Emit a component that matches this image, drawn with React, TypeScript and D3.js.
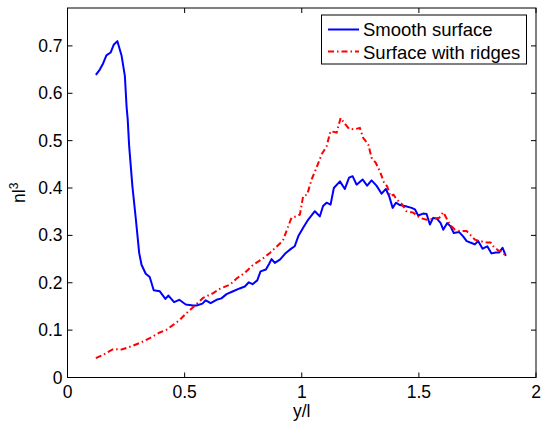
import React from 'react';
import * as d3 from 'd3';

// Smooth surface (blue, solid)
const smoothX = [0.121, 0.138, 0.152, 0.166, 0.184, 0.198, 0.213, 0.231, 0.245, 0.252, 0.257, 0.263, 0.277, 0.292, 0.306, 0.316, 0.334, 0.351, 0.368, 0.394, 0.418, 0.431, 0.455, 0.477, 0.505, 0.536, 0.551, 0.576, 0.59, 0.611, 0.636, 0.657, 0.679, 0.707, 0.735, 0.757, 0.774, 0.79, 0.81, 0.824, 0.847, 0.861, 0.871, 0.885, 0.907, 0.932, 0.955, 0.97, 0.985, 1.006, 1.027, 1.056, 1.077, 1.091, 1.106, 1.123, 1.137, 1.163, 1.184, 1.202, 1.217, 1.234, 1.26, 1.279, 1.298, 1.319, 1.341, 1.359, 1.373, 1.388, 1.402, 1.419, 1.44, 1.469, 1.483, 1.497, 1.518, 1.533, 1.547, 1.561, 1.578, 1.593, 1.604, 1.621, 1.635, 1.649, 1.672, 1.689, 1.704, 1.725, 1.739, 1.753, 1.772, 1.792, 1.81, 1.829, 1.843, 1.857, 1.871];
const smoothY = [0.639, 0.65, 0.663, 0.68, 0.686, 0.703, 0.71, 0.679, 0.636, 0.573, 0.545, 0.49, 0.404, 0.333, 0.263, 0.238, 0.219, 0.212, 0.184, 0.182, 0.166, 0.173, 0.159, 0.164, 0.154, 0.152, 0.152, 0.156, 0.163, 0.157, 0.164, 0.167, 0.176, 0.182, 0.188, 0.192, 0.201, 0.197, 0.205, 0.224, 0.228, 0.24, 0.25, 0.242, 0.249, 0.263, 0.272, 0.277, 0.298, 0.316, 0.333, 0.351, 0.34, 0.362, 0.369, 0.365, 0.4, 0.414, 0.398, 0.422, 0.425, 0.407, 0.418, 0.405, 0.416, 0.405, 0.388, 0.398, 0.383, 0.358, 0.369, 0.364, 0.362, 0.358, 0.355, 0.342, 0.346, 0.345, 0.323, 0.337, 0.335, 0.326, 0.312, 0.326, 0.319, 0.305, 0.307, 0.298, 0.288, 0.284, 0.281, 0.288, 0.272, 0.277, 0.262, 0.264, 0.264, 0.274, 0.257];

// Surface with ridges (red, dash-dot)
const ridgeX = [0.121, 0.152, 0.195, 0.231, 0.273, 0.309, 0.351, 0.394, 0.423, 0.451, 0.48, 0.508, 0.544, 0.579, 0.622, 0.65, 0.693, 0.722, 0.757, 0.793, 0.828, 0.864, 0.907, 0.921, 0.956, 0.975, 0.992, 1.006, 1.023, 1.042, 1.063, 1.085, 1.106, 1.123, 1.149, 1.166, 1.18, 1.202, 1.226, 1.248, 1.262, 1.284, 1.298, 1.316, 1.333, 1.351, 1.365, 1.378, 1.392, 1.405, 1.426, 1.447, 1.476, 1.504, 1.533, 1.561, 1.587, 1.604, 1.619, 1.632, 1.654, 1.675, 1.704, 1.718, 1.739, 1.761, 1.789, 1.806, 1.818, 1.839, 1.853, 1.867];
const ridgeY = [0.041, 0.048, 0.06, 0.059, 0.066, 0.073, 0.083, 0.095, 0.101, 0.111, 0.122, 0.136, 0.152, 0.168, 0.178, 0.187, 0.196, 0.209, 0.221, 0.238, 0.249, 0.263, 0.283, 0.291, 0.337, 0.34, 0.344, 0.383, 0.386, 0.418, 0.443, 0.471, 0.488, 0.52, 0.517, 0.548, 0.538, 0.525, 0.524, 0.527, 0.506, 0.492, 0.464, 0.453, 0.436, 0.412, 0.403, 0.383, 0.386, 0.376, 0.367, 0.351, 0.348, 0.337, 0.333, 0.335, 0.337, 0.349, 0.335, 0.323, 0.312, 0.309, 0.309, 0.302, 0.291, 0.288, 0.285, 0.285, 0.277, 0.268, 0.266, 0.259];

const xTicks = [0, 0.5, 1, 1.5, 2];
const xTickLabels = ['0', '0.5', '1', '1.5', '2'];
const yTicks = [0, 0.1, 0.2, 0.3, 0.4, 0.5, 0.6, 0.7];
const yTickLabels = ['0', '0.1', '0.2', '0.3', '0.4', '0.5', '0.6', '0.7'];
const legendLabels = ['Smooth surface', 'Surface with ridges'];

const W = 541;
const H = 421;
const margin = { left: 67.5, right: 5, top: 8, bottom: 43.5 };
const font = '"Liberation Sans", Arial, sans-serif';
const fs = 17.5;
const legendFs = 18.5;
const tickLen = 5;

export default function App() {
  const x = d3.scaleLinear().domain([0, 2]).range([margin.left, W - margin.right]);
  const y = d3.scaleLinear().domain([0, 0.78]).range([H - margin.bottom, margin.top]);
  const x0 = x.range()[0], x1 = x.range()[1];
  const y0 = y.range()[0], y1 = y.range()[1];

  const line = d3
    .line<[number, number]>()
    .x((d) => x(d[0]))
    .y((d) => y(d[1]));

  const smooth = smoothX.map((v, i) => [v, smoothY[i]] as [number, number]);
  const ridge = ridgeX.map((v, i) => [v, ridgeY[i]] as [number, number]);

  const lg = { x: 321.5, y: 15, w: 205, h: 49 };

  return (
    <svg
      width={W}
      height={H}
      style={{ position: 'absolute', left: 0, top: 0, background: '#fff' }}
      fontFamily={font}
    >
      <rect x={0} y={0} width={W} height={H} fill="#fff" />

      {/* data */}
      <path d={line(smooth) || ''} fill="none" stroke="#0000ff" strokeWidth={2} strokeLinejoin="round" />
      <path
        d={line(ridge) || ''}
        fill="none"
        stroke="#ff0000"
        strokeWidth={2}
        strokeDasharray="6,3,1.5,3"
      />

      {/* axes box */}
      <rect x={x0} y={y1} width={x1 - x0} height={y0 - y1} fill="none" stroke="#000" strokeWidth={1} />

      {/* x ticks */}
      {xTicks.map((t, i) => (
        <g key={'xt' + i}>
          <line x1={x(t)} x2={x(t)} y1={y0} y2={y0 - tickLen} stroke="#000" />
          <line x1={x(t)} x2={x(t)} y1={y1} y2={y1 + tickLen} stroke="#000" />
          <text x={x(t)} y={y0 + 20.5} textAnchor="middle" fontSize={fs} fill="#000">
            {xTickLabels[i]}
          </text>
        </g>
      ))}

      {/* y ticks */}
      {yTicks.map((t, i) => (
        <g key={'yt' + i}>
          <line x1={x0} x2={x0 + tickLen} y1={y(t)} y2={y(t)} stroke="#000" />
          <line x1={x1} x2={x1 - tickLen} y1={y(t)} y2={y(t)} stroke="#000" />
          <text x={x0 - 5} y={y(t) + 6} textAnchor="end" fontSize={fs} fill="#000">
            {yTickLabels[i]}
          </text>
        </g>
      ))}

      {/* axis labels */}
      <text x={(x0 + x1) / 2} y={417} textAnchor="middle" fontSize={fs} fill="#000">
        y/l
      </text>
      <text transform={`translate(25,${(y0 + y1) / 2}) rotate(-90)`} textAnchor="middle" fontSize={fs} fill="#000">
        nl
        <tspan fontSize={12} dy={-7}>3</tspan>
      </text>

      {/* legend */}
      <rect x={lg.x} y={lg.y} width={lg.w} height={lg.h} fill="#fff" stroke="#000" strokeWidth={1} />
      <line x1={328} x2={359} y1={29.5} y2={29.5} stroke="#0000ff" strokeWidth={2} />
      <line x1={328} x2={359} y1={51.5} y2={51.5} stroke="#ff0000" strokeWidth={2} strokeDasharray="6,3,1.5,3" />
      <text x={363} y={36} fontSize={legendFs} fill="#000">
        {legendLabels[0]}
      </text>
      <text x={363} y={58.5} fontSize={legendFs} fill="#000">
        {legendLabels[1]}
      </text>
    </svg>
  );
}
